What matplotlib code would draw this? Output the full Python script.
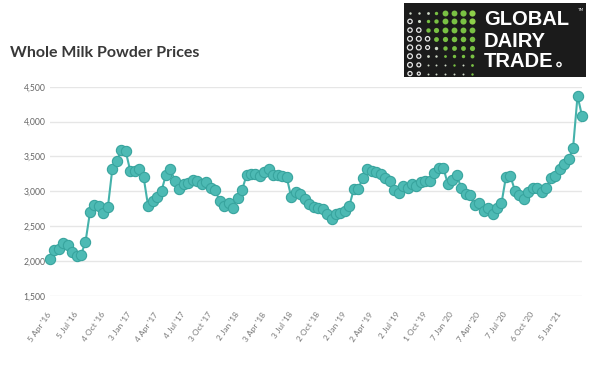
import matplotlib
matplotlib.use("Agg")
import matplotlib.pyplot as plt
import numpy as np

# ---------------- data ----------------
prices = [
    2025, 2159, 2173, 2264, 2226, 2130, 2078, 2092, 2274, 2699,
    2804, 2790, 2684, 2770, 3320, 3435, 3592, 3573, 3296, 3286,
    3315, 3200, 2790, 2861, 2923, 3009, 3239, 3315, 3153, 3038,
    3110, 3114, 3162, 3148, 3110, 3138, 3043, 3019, 2861, 2785,
    2837, 2766, 2900, 3019, 3229, 3248, 3243, 3224, 3282, 3315,
    3234, 3234, 3220, 3200, 2914, 2986, 2962, 2885, 2818, 2780,
    2766, 2747, 2675, 2608, 2675, 2684, 2718, 2794, 3038, 3038,
    3196, 3325, 3296, 3282, 3253, 3191, 3143, 3019, 2981, 3081,
    3043, 3105, 3081, 3129, 3143, 3143, 3263, 3330, 3339, 3105,
    3162, 3239, 3043, 2962, 2947, 2804, 2828, 2718, 2756, 2675,
    2766, 2828, 3210, 3220, 3009, 2943, 2890, 2990, 3052, 3052,
    2990, 3043, 3186, 3224, 3315, 3387, 3459, 3621, 4366, 4084,
]
tick_labels = [
    "5 Apr '16", "5 Jul '16", "4 Oct '16", "3 Jan '17", "4 Apr '17",
    "4 Jul '17", "3 Oct '17", "2 Jan '18", "3 Apr '18", "3 Jul '18",
    "2 Oct '18", "2 Jan '19", "2 Apr '19", "2 Jul '19", "1 Oct '19",
    "7 Jan '20", "7 Apr '20", "7 Jul '20", "6 Oct '20", "5 Jan '21",
]
tick_every = 6
y_ticks = [1500, 2000, 2500, 3000, 3500, 4000, 4500]
title = "Whole Milk Powder Prices"

W, H = 595, 367
fig = plt.figure(figsize=(W / 100, H / 100), dpi=100)
fig.patch.set_facecolor("white")

def px_axes(x0, y0, x1, y1):
    return fig.add_axes([x0 / W, (H - y1) / H, (x1 - x0) / W, (y1 - y0) / H])

# ---------------- main chart ----------------
ax = px_axes(49.7, 86.7, 582, 296)
x = np.arange(len(prices))
ax.plot(x, prices, color="#45b2ab", lw=1.5, marker="o", ms=7.4,
        mfc="#4dbab4", mec="#38a49e", mew=0.8, clip_on=False, zorder=3)
ax.set_xlim(0, len(prices) - 1)
ax.set_ylim(1500, 4500)
ax.set_yticks(y_ticks)
ax.set_yticklabels([f"{v:,}" for v in y_ticks], fontsize=6.2,
                   color="#666666", family=["Lato", "DejaVu Sans"])
ax.grid(axis="y", color="#e6e6e6", lw=1)
ax.set_axisbelow(True)
for s in ax.spines.values():
    s.set_visible(False)
ax.tick_params(axis="y", length=0, pad=3)
ax.tick_params(axis="x", length=0, pad=12)
ax.set_xticks(np.arange(len(tick_labels)) * tick_every)
ax.set_xticklabels(tick_labels, rotation=55, ha="right", va="center",
                   rotation_mode="anchor", fontsize=6, color="#777777",
                   family=["Lato", "DejaVu Sans"])

# ---------------- title ----------------
fig.text(10 / W, 1 - 57 / H, title, fontsize=11.5, fontweight="bold",
         color="#383838", family=["Lato", "DejaVu Sans"], va="baseline")

# ---------------- logo ----------------
lg = px_axes(404, 3, 586, 77)
lg.set_xlim(0, 182)
lg.set_ylim(74, 0)
lg.set_facecolor("#1b1b1b")
for s in lg.spines.values():
    s.set_visible(False)
lg.set_xticks([])
lg.set_yticks([])
pattern = [
    "wwwggggG",
    "rwgggggG",
    "rrgggggg",
    "rrrggggg",
    "rrrwgggg",
    "rrwwgggg",
    "rrwwwgwg",
    "rrwwwwwg",
]
sizes = [
    [3, 3, 4, 6, 18, 18, 20, 20],
    [10, 5, 6, 10, 18, 18, 20, 20],
    [10, 10, 10, 14, 18, 18, 18, 18],
    [12, 12, 10, 12, 14, 16, 16, 16],
    [14, 12, 8, 6, 10, 12, 12, 14],
    [12, 9, 4, 3, 4, 6, 6, 8],
    [12, 8, 2, 2, 2, 3, 2, 4],
    [9, 5, 2, 2, 2, 2, 2, 3],
]
for r in range(8):
    for c in range(8):
        t = pattern[r][c]
        xx = 6 + 8.8 * c
        yy = 9.7 + 8.7 * r
        s = sizes[r][c]
        if t == "r":
            lg.scatter(xx, yy, s=s, facecolor="none", edgecolor="#e8e8e8", lw=0.9)
        elif t == "w":
            lg.scatter(xx, yy, s=s, color="#cfd8c8", lw=0)
        else:
            col = "#8ed14a" if t == "G" else "#79c143"
            lg.scatter(xx, yy, s=s, color=col, lw=0)
for i, word in enumerate(["GLOBAL", "DAIRY", "TRADE"]):
    lg.text(80, [22, 44, 64][i], word, color="white", fontsize=14.5,
            fontweight="bold", family=["Liberation Sans", "DejaVu Sans"],
            va="baseline", ha="left")
lg.scatter(155, 61.5, s=9, facecolor="none", edgecolor="white", lw=1)
lg.text(176, 7, "TM", color="#dddddd", fontsize=3.2, ha="center", va="center")

fig.savefig("out.png", dpi=100)
